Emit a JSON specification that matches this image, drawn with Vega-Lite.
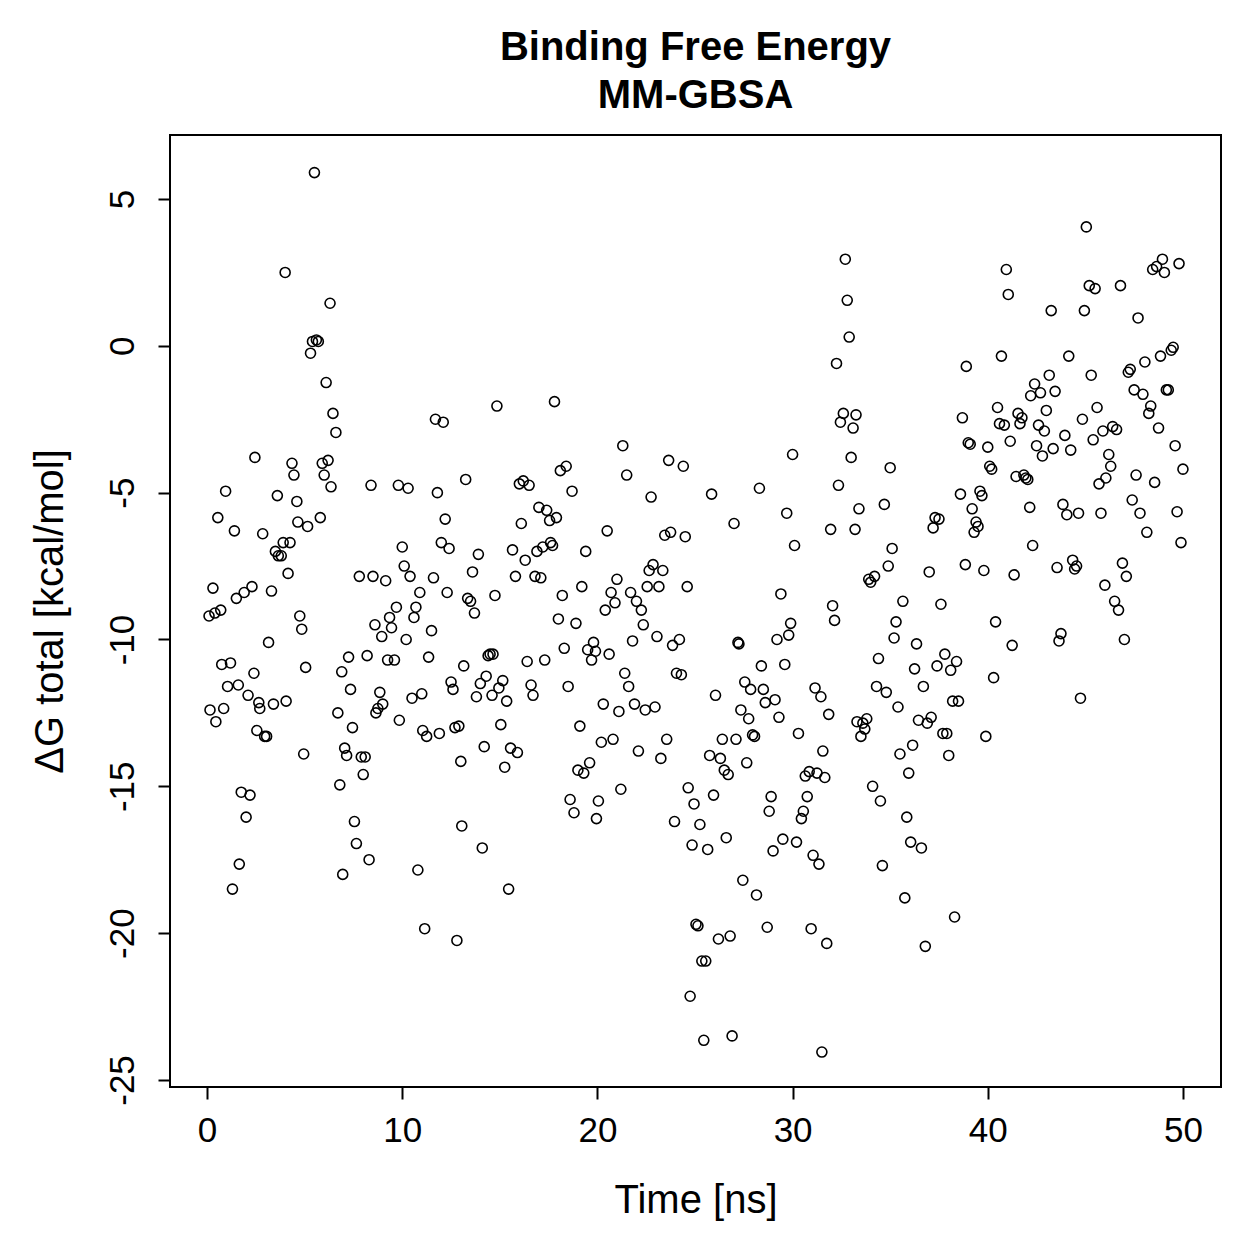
{
  "$schema": "https://vega.github.io/schema/vega-lite/v6.json",
  "width": 1051,
  "height": 952,
  "autosize": "none",
  "padding": {"left": 170, "top": 135, "right": 38, "bottom": 172},
  "background": "white",
  "title": {
    "text": ["Binding Free Energy", "MM-GBSA"],
    "font": "Liberation Sans",
    "fontSize": 40,
    "fontWeight": "bold",
    "color": "black",
    "anchor": "middle",
    "frame": "group",
    "baseline": "bottom",
    "lineHeight": 48,
    "offset": 19,
    "dy": 40
  },
  "config": {
    "view": {"stroke": "black", "strokeWidth": 2},
    "axis": {
      "grid": false,
      "domain": false,
      "tickColor": "black",
      "tickWidth": 2,
      "tickSize": 12,
      "labelFont": "Liberation Sans",
      "labelFontSize": 35,
      "labelColor": "black",
      "titleFont": "Liberation Sans",
      "titleFontSize": 40,
      "titleFontWeight": "normal",
      "titleColor": "black"
    }
  },
  "data": {
    "values": [
      {"t":0.1,"dG":-9.2},{"t":0.3,"dG":-8.25},{"t":0.4,"dG":-9.1},{"t":0.15,"dG":-12.4},{"t":0.45,"dG":-12.8},
      {"t":0.55,"dG":-5.85},{"t":0.7,"dG":-9.0},{"t":0.75,"dG":-10.85},{"t":0.85,"dG":-12.35},{"t":0.95,"dG":-4.95},
      {"t":1.05,"dG":-11.6},{"t":1.2,"dG":-10.8},{"t":1.3,"dG":-18.5},{"t":1.4,"dG":-6.3},{"t":1.5,"dG":-8.6},
      {"t":1.6,"dG":-11.55},{"t":1.65,"dG":-17.65},{"t":1.75,"dG":-15.2},{"t":1.9,"dG":-8.4},{"t":2.0,"dG":-16.05},
      {"t":2.1,"dG":-11.9},{"t":2.2,"dG":-15.3},{"t":2.3,"dG":-8.2},{"t":2.4,"dG":-11.15},{"t":2.45,"dG":-3.8},
      {"t":2.55,"dG":-13.1},{"t":2.65,"dG":-12.15},{"t":2.7,"dG":-12.35},{"t":2.85,"dG":-6.4},{"t":2.95,"dG":-13.3},
      {"t":3.05,"dG":-13.3},{"t":3.15,"dG":-10.1},{"t":3.3,"dG":-8.35},{"t":3.4,"dG":-12.2},{"t":3.6,"dG":-5.1},
      {"t":3.5,"dG":-7.0},{"t":3.65,"dG":-7.15},{"t":3.8,"dG":-7.15},{"t":3.9,"dG":-6.7},{"t":4.0,"dG":2.5},
      {"t":4.05,"dG":-12.1},{"t":4.15,"dG":-7.75},{"t":4.25,"dG":-6.7},{"t":4.35,"dG":-4.0},{"t":4.45,"dG":-4.4},
      {"t":4.6,"dG":-5.3},{"t":4.65,"dG":-6.0},{"t":4.75,"dG":-9.2},{"t":4.85,"dG":-9.65},{"t":4.95,"dG":-13.9},
      {"t":5.05,"dG":-10.95},{"t":5.15,"dG":-6.15},{"t":5.3,"dG":-0.25},{"t":5.4,"dG":0.15},{"t":5.5,"dG":5.9},
      {"t":5.6,"dG":0.2},{"t":5.7,"dG":0.15},{"t":5.8,"dG":-5.85},{"t":5.9,"dG":-4.0},{"t":6.0,"dG":-4.4},
      {"t":6.1,"dG":-1.25},{"t":6.2,"dG":-3.9},{"t":6.3,"dG":1.45},{"t":6.35,"dG":-4.8},{"t":6.45,"dG":-2.3},
      {"t":6.6,"dG":-2.95},{"t":6.7,"dG":-12.5},{"t":6.8,"dG":-14.95},{"t":6.9,"dG":-11.1},{"t":6.95,"dG":-18.0},
      {"t":7.05,"dG":-13.7},{"t":7.15,"dG":-13.95},{"t":7.25,"dG":-10.6},{"t":7.35,"dG":-11.7},{"t":7.45,"dG":-13.0},
      {"t":7.55,"dG":-16.2},{"t":7.65,"dG":-16.95},{"t":7.8,"dG":-7.85},{"t":7.9,"dG":-14.0},{"t":8.0,"dG":-14.6},
      {"t":8.1,"dG":-14.0},{"t":8.2,"dG":-10.55},{"t":8.3,"dG":-17.5},{"t":8.4,"dG":-4.75},{"t":8.5,"dG":-7.85},
      {"t":8.6,"dG":-9.5},{"t":8.65,"dG":-12.5},{"t":8.75,"dG":-12.35},{"t":8.85,"dG":-11.8},{"t":8.95,"dG":-9.9},
      {"t":9.0,"dG":-12.2},{"t":9.15,"dG":-8.0},{"t":9.25,"dG":-10.7},{"t":9.35,"dG":-9.25},{"t":9.45,"dG":-9.6},
      {"t":9.6,"dG":-10.7},{"t":9.7,"dG":-8.9},{"t":9.8,"dG":-4.75},{"t":9.85,"dG":-12.75},{"t":10.0,"dG":-6.85},
      {"t":10.1,"dG":-7.5},{"t":10.2,"dG":-10.0},{"t":10.3,"dG":-4.85},{"t":10.4,"dG":-7.85},{"t":10.5,"dG":-12.0},
      {"t":10.6,"dG":-9.25},{"t":10.7,"dG":-8.9},{"t":10.8,"dG":-17.85},{"t":10.9,"dG":-8.4},{"t":11.0,"dG":-11.85},
      {"t":11.05,"dG":-13.1},{"t":11.15,"dG":-19.85},{"t":11.25,"dG":-13.3},{"t":11.35,"dG":-10.6},{"t":11.5,"dG":-9.7},
      {"t":11.6,"dG":-7.9},{"t":11.7,"dG":-2.5},{"t":11.8,"dG":-5.0},{"t":11.9,"dG":-13.2},{"t":12.0,"dG":-6.7},
      {"t":12.1,"dG":-2.6},{"t":12.2,"dG":-5.9},{"t":12.3,"dG":-8.4},{"t":12.4,"dG":-6.9},{"t":12.5,"dG":-11.45},
      {"t":12.6,"dG":-11.7},{"t":12.7,"dG":-13.0},{"t":12.8,"dG":-20.25},{"t":12.9,"dG":-12.95},{"t":13.0,"dG":-14.15},
      {"t":13.05,"dG":-16.35},{"t":13.15,"dG":-10.9},{"t":13.25,"dG":-4.55},{"t":13.35,"dG":-8.6},{"t":13.5,"dG":-8.7},
      {"t":13.6,"dG":-7.7},{"t":13.7,"dG":-9.1},{"t":13.8,"dG":-11.95},{"t":13.9,"dG":-7.1},{"t":14.0,"dG":-11.5},
      {"t":14.1,"dG":-17.1},{"t":14.2,"dG":-13.65},{"t":14.3,"dG":-11.25},{"t":14.4,"dG":-10.55},{"t":14.5,"dG":-10.5},
      {"t":14.6,"dG":-11.9},{"t":14.65,"dG":-10.5},{"t":14.75,"dG":-8.5},{"t":14.85,"dG":-2.05},{"t":14.95,"dG":-11.65},
      {"t":15.05,"dG":-12.9},{"t":15.15,"dG":-11.4},{"t":15.25,"dG":-14.35},{"t":15.35,"dG":-12.1},{"t":15.45,"dG":-18.5},
      {"t":15.55,"dG":-13.7},{"t":15.65,"dG":-6.95},{"t":15.8,"dG":-7.85},{"t":15.9,"dG":-13.85},{"t":16.0,"dG":-4.7},
      {"t":16.1,"dG":-6.05},{"t":16.2,"dG":-4.6},{"t":16.3,"dG":-7.3},{"t":16.4,"dG":-10.75},{"t":16.5,"dG":-4.75},
      {"t":16.6,"dG":-11.55},{"t":16.7,"dG":-11.9},{"t":16.8,"dG":-7.85},{"t":16.9,"dG":-7.0},{"t":17.0,"dG":-5.5},
      {"t":17.1,"dG":-7.9},{"t":17.2,"dG":-6.85},{"t":17.3,"dG":-10.7},{"t":17.4,"dG":-5.6},{"t":17.55,"dG":-5.95},
      {"t":17.6,"dG":-6.7},{"t":17.7,"dG":-6.8},{"t":17.8,"dG":-1.9},{"t":17.9,"dG":-5.85},{"t":18.0,"dG":-9.3},
      {"t":18.1,"dG":-4.25},{"t":18.2,"dG":-8.5},{"t":18.3,"dG":-10.3},{"t":18.4,"dG":-4.1},{"t":18.5,"dG":-11.6},
      {"t":18.6,"dG":-15.45},{"t":18.7,"dG":-4.95},{"t":18.8,"dG":-15.9},{"t":18.9,"dG":-9.45},{"t":19.0,"dG":-14.45},
      {"t":19.1,"dG":-12.95},{"t":19.2,"dG":-8.2},{"t":19.3,"dG":-14.55},{"t":19.4,"dG":-7.0},{"t":19.5,"dG":-10.35},
      {"t":19.6,"dG":-14.2},{"t":19.7,"dG":-10.7},{"t":19.8,"dG":-10.1},{"t":19.9,"dG":-10.4},{"t":19.95,"dG":-16.1},
      {"t":20.05,"dG":-15.5},{"t":20.2,"dG":-13.5},{"t":20.3,"dG":-12.2},{"t":20.4,"dG":-9.0},{"t":20.5,"dG":-6.3},
      {"t":20.6,"dG":-10.5},{"t":20.7,"dG":-8.4},{"t":20.8,"dG":-13.4},{"t":20.9,"dG":-8.75},{"t":21.0,"dG":-7.95},
      {"t":21.1,"dG":-12.45},{"t":21.2,"dG":-15.1},{"t":21.3,"dG":-3.4},{"t":21.4,"dG":-11.15},{"t":21.5,"dG":-4.4},
      {"t":21.6,"dG":-11.6},{"t":21.7,"dG":-8.4},{"t":21.8,"dG":-10.05},{"t":21.9,"dG":-12.2},{"t":22.0,"dG":-8.7},
      {"t":22.1,"dG":-13.8},{"t":22.25,"dG":-9.0},{"t":22.35,"dG":-9.5},{"t":22.45,"dG":-12.4},{"t":22.55,"dG":-8.2},
      {"t":22.65,"dG":-7.65},{"t":22.75,"dG":-5.15},{"t":22.85,"dG":-7.45},{"t":22.95,"dG":-12.3},{"t":23.05,"dG":-9.9},
      {"t":23.15,"dG":-8.2},{"t":23.25,"dG":-14.05},{"t":23.35,"dG":-7.65},{"t":23.45,"dG":-6.45},{"t":23.55,"dG":-13.4},
      {"t":23.65,"dG":-3.9},{"t":23.75,"dG":-6.35},{"t":23.85,"dG":-10.2},{"t":23.95,"dG":-16.2},{"t":24.05,"dG":-11.15},
      {"t":24.2,"dG":-10.0},{"t":24.3,"dG":-11.2},{"t":24.4,"dG":-4.1},{"t":24.5,"dG":-6.5},{"t":24.6,"dG":-8.2},
      {"t":24.65,"dG":-15.05},{"t":24.75,"dG":-22.15},{"t":24.85,"dG":-17.0},{"t":24.95,"dG":-15.6},{"t":25.05,"dG":-19.7},
      {"t":25.15,"dG":-19.75},{"t":25.25,"dG":-16.3},{"t":25.35,"dG":-20.95},{"t":25.45,"dG":-23.65},{"t":25.55,"dG":-20.95},
      {"t":25.65,"dG":-17.15},{"t":25.75,"dG":-13.95},{"t":25.85,"dG":-5.05},{"t":25.95,"dG":-15.3},{"t":26.05,"dG":-11.9},
      {"t":26.2,"dG":-20.2},{"t":26.3,"dG":-14.05},{"t":26.4,"dG":-13.4},{"t":26.5,"dG":-14.45},{"t":26.6,"dG":-16.75},
      {"t":26.7,"dG":-14.6},{"t":26.8,"dG":-20.1},{"t":26.9,"dG":-23.5},{"t":27.0,"dG":-6.05},{"t":27.1,"dG":-13.4},
      {"t":27.2,"dG":-10.1},{"t":27.25,"dG":-10.15},{"t":27.35,"dG":-12.4},{"t":27.45,"dG":-18.2},{"t":27.55,"dG":-11.45},
      {"t":27.65,"dG":-14.2},{"t":27.75,"dG":-12.7},{"t":27.85,"dG":-11.7},{"t":27.95,"dG":-13.25},{"t":28.05,"dG":-13.3},
      {"t":28.15,"dG":-18.7},{"t":28.3,"dG":-4.85},{"t":28.4,"dG":-10.9},{"t":28.5,"dG":-11.7},{"t":28.6,"dG":-12.15},
      {"t":28.7,"dG":-19.8},{"t":28.8,"dG":-15.85},{"t":28.9,"dG":-15.35},{"t":29.0,"dG":-17.2},{"t":29.1,"dG":-12.05},
      {"t":29.2,"dG":-10.0},{"t":29.3,"dG":-12.65},{"t":29.4,"dG":-8.45},{"t":29.5,"dG":-16.8},{"t":29.6,"dG":-10.85},
      {"t":29.7,"dG":-5.7},{"t":29.8,"dG":-9.85},{"t":29.9,"dG":-9.45},{"t":30.0,"dG":-3.7},{"t":30.1,"dG":-6.8},
      {"t":30.2,"dG":-16.9},{"t":30.3,"dG":-13.2},{"t":30.45,"dG":-16.1},{"t":30.55,"dG":-15.85},{"t":30.65,"dG":-14.65},
      {"t":30.75,"dG":-15.35},{"t":30.85,"dG":-14.5},{"t":30.95,"dG":-19.85},{"t":31.05,"dG":-17.35},{"t":31.15,"dG":-11.65},
      {"t":31.25,"dG":-14.55},{"t":31.35,"dG":-17.65},{"t":31.45,"dG":-11.95},{"t":31.5,"dG":-24.05},{"t":31.55,"dG":-13.8},
      {"t":31.65,"dG":-14.7},{"t":31.75,"dG":-20.35},{"t":31.85,"dG":-12.55},{"t":31.95,"dG":-6.25},{"t":32.05,"dG":-8.85},
      {"t":32.15,"dG":-9.35},{"t":32.25,"dG":-0.6},{"t":32.35,"dG":-4.75},{"t":32.45,"dG":-2.6},{"t":32.6,"dG":-2.3},
      {"t":32.7,"dG":2.95},{"t":32.8,"dG":1.55},{"t":32.9,"dG":0.3},{"t":33.0,"dG":-3.8},{"t":33.1,"dG":-2.8},
      {"t":33.2,"dG":-6.25},{"t":33.25,"dG":-2.35},{"t":33.3,"dG":-12.8},{"t":33.4,"dG":-5.55},{"t":33.5,"dG":-13.3},
      {"t":33.6,"dG":-12.85},{"t":33.7,"dG":-13.05},{"t":33.8,"dG":-12.7},{"t":33.9,"dG":-7.95},{"t":34.0,"dG":-8.05},
      {"t":34.1,"dG":-15.0},{"t":34.2,"dG":-7.85},{"t":34.3,"dG":-11.6},{"t":34.4,"dG":-10.65},{"t":34.5,"dG":-15.5},
      {"t":34.6,"dG":-17.7},{"t":34.7,"dG":-5.4},{"t":34.8,"dG":-11.8},{"t":34.9,"dG":-7.5},{"t":35.0,"dG":-4.15},
      {"t":35.1,"dG":-6.9},{"t":35.2,"dG":-9.95},{"t":35.3,"dG":-9.4},{"t":35.4,"dG":-12.3},{"t":35.5,"dG":-13.9},
      {"t":35.65,"dG":-8.7},{"t":35.75,"dG":-18.8},{"t":35.85,"dG":-16.05},{"t":35.95,"dG":-14.55},{"t":36.05,"dG":-16.9},
      {"t":36.15,"dG":-13.6},{"t":36.25,"dG":-11.0},{"t":36.35,"dG":-10.15},{"t":36.45,"dG":-12.75},{"t":36.6,"dG":-17.1},
      {"t":36.7,"dG":-11.6},{"t":36.8,"dG":-20.45},{"t":36.9,"dG":-12.85},{"t":37.0,"dG":-7.7},{"t":37.1,"dG":-12.65},
      {"t":37.2,"dG":-6.2},{"t":37.3,"dG":-5.85},{"t":37.4,"dG":-10.9},{"t":37.5,"dG":-5.9},{"t":37.6,"dG":-8.8},
      {"t":37.7,"dG":-13.2},{"t":37.8,"dG":-10.5},{"t":37.9,"dG":-13.2},{"t":38.0,"dG":-13.95},{"t":38.1,"dG":-11.05},
      {"t":38.2,"dG":-12.1},{"t":38.3,"dG":-19.45},{"t":38.4,"dG":-10.75},{"t":38.5,"dG":-12.1},{"t":38.6,"dG":-5.05},
      {"t":38.7,"dG":-2.45},{"t":38.85,"dG":-7.45},{"t":38.9,"dG":-0.7},{"t":39.0,"dG":-3.3},{"t":39.1,"dG":-3.35},
      {"t":39.2,"dG":-5.55},{"t":39.3,"dG":-6.35},{"t":39.4,"dG":-6.0},{"t":39.5,"dG":-6.15},{"t":39.6,"dG":-4.95},
      {"t":39.7,"dG":-5.1},{"t":39.8,"dG":-7.65},{"t":39.9,"dG":-13.3},{"t":40.0,"dG":-3.45},{"t":40.1,"dG":-4.1},
      {"t":40.2,"dG":-4.2},{"t":40.3,"dG":-11.3},{"t":40.4,"dG":-9.4},{"t":40.5,"dG":-2.1},{"t":40.6,"dG":-2.65},
      {"t":40.7,"dG":-0.35},{"t":40.85,"dG":-2.7},{"t":40.95,"dG":2.6},{"t":41.05,"dG":1.75},{"t":41.15,"dG":-3.25},
      {"t":41.25,"dG":-10.2},{"t":41.35,"dG":-7.8},{"t":41.45,"dG":-4.45},{"t":41.55,"dG":-2.3},{"t":41.65,"dG":-2.65},
      {"t":41.75,"dG":-2.45},{"t":41.85,"dG":-4.4},{"t":41.95,"dG":-4.5},{"t":42.05,"dG":-4.55},{"t":42.15,"dG":-5.5},
      {"t":42.2,"dG":-1.7},{"t":42.3,"dG":-6.8},{"t":42.4,"dG":-1.3},{"t":42.5,"dG":-3.4},{"t":42.6,"dG":-2.7},
      {"t":42.7,"dG":-1.6},{"t":42.8,"dG":-3.75},{"t":42.9,"dG":-2.9},{"t":43.0,"dG":-2.2},{"t":43.15,"dG":-1.0},
      {"t":43.25,"dG":1.2},{"t":43.35,"dG":-3.5},{"t":43.45,"dG":-1.55},{"t":43.55,"dG":-7.55},{"t":43.65,"dG":-10.05},
      {"t":43.75,"dG":-9.8},{"t":43.85,"dG":-5.4},{"t":43.95,"dG":-3.05},{"t":44.05,"dG":-5.75},{"t":44.15,"dG":-0.35},
      {"t":44.25,"dG":-3.55},{"t":44.35,"dG":-7.3},{"t":44.45,"dG":-7.6},{"t":44.55,"dG":-7.5},{"t":44.65,"dG":-5.7},
      {"t":44.75,"dG":-12.0},{"t":44.85,"dG":-2.5},{"t":44.95,"dG":1.2},{"t":45.05,"dG":4.05},{"t":45.2,"dG":2.05},
      {"t":45.3,"dG":-1.0},{"t":45.4,"dG":-3.2},{"t":45.5,"dG":1.95},{"t":45.6,"dG":-2.1},{"t":45.7,"dG":-4.7},
      {"t":45.8,"dG":-5.7},{"t":45.9,"dG":-2.9},{"t":46.0,"dG":-8.15},{"t":46.05,"dG":-4.5},{"t":46.2,"dG":-3.7},
      {"t":46.3,"dG":-4.1},{"t":46.4,"dG":-2.75},{"t":46.5,"dG":-8.7},{"t":46.6,"dG":-2.85},{"t":46.7,"dG":-9.0},
      {"t":46.8,"dG":2.05},{"t":46.9,"dG":-7.4},{"t":47.0,"dG":-10.0},{"t":47.1,"dG":-7.85},{"t":47.2,"dG":-0.9},
      {"t":47.3,"dG":-0.8},{"t":47.4,"dG":-5.25},{"t":47.5,"dG":-1.5},{"t":47.6,"dG":-4.4},{"t":47.7,"dG":0.95},
      {"t":47.8,"dG":-5.7},{"t":47.95,"dG":-1.65},{"t":48.05,"dG":-0.55},{"t":48.15,"dG":-6.35},{"t":48.25,"dG":-2.3},
      {"t":48.35,"dG":-2.05},{"t":48.45,"dG":2.6},{"t":48.55,"dG":-4.65},{"t":48.65,"dG":2.7},{"t":48.75,"dG":-2.8},
      {"t":48.85,"dG":-0.35},{"t":48.95,"dG":2.95},{"t":49.05,"dG":2.5},{"t":49.15,"dG":-1.5},{"t":49.25,"dG":-1.5},
      {"t":49.4,"dG":-0.15},{"t":49.5,"dG":-0.05},{"t":49.6,"dG":-3.4},{"t":49.7,"dG":-5.65},{"t":49.8,"dG":2.8},
      {"t":49.9,"dG":-6.7},{"t":50.0,"dG":-4.2}
    ]
  },
  "mark": {"type": "point", "shape": "circle", "filled": false, "stroke": "black", "strokeWidth": 1.6, "size": 100, "opacity": 1},
  "encoding": {
    "x": {
      "field": "t", "type": "quantitative",
      "scale": {"domain": [-1.9, 51.95], "nice": false, "zero": false},
      "axis": {
        "title": "Time [ns]",
        "values": [0, 10, 20, 30, 40, 50],
        "labelExpr": "toString(datum.value)",
        "labelBaseline": "middle",
        "labelPadding": 31,
        "labelFlush": false,
        "labelOverlap": false,
        "titleX": 525.5,
        "titleY": 113,
        "titleBaseline": "middle",
        "titleAlign": "center"
      }
    },
    "y": {
      "field": "dG", "type": "quantitative",
      "scale": {"domain": [-25.24, 7.18], "nice": false, "zero": false},
      "axis": {
        "title": "ΔG total [kcal/mol]",
        "values": [-25, -20, -15, -10, -5, 0, 5],
        "labelExpr": "toString(datum.value)",
        "labelAngle": 270,
        "labelAlign": "center",
        "labelBaseline": "middle",
        "labelPadding": 36,
        "labelFlush": false,
        "labelOverlap": false,
        "titleAngle": 270,
        "titleX": -120,
        "titleY": 476,
        "titleAlign": "center",
        "titleBaseline": "middle"
      }
    }
  }
}
